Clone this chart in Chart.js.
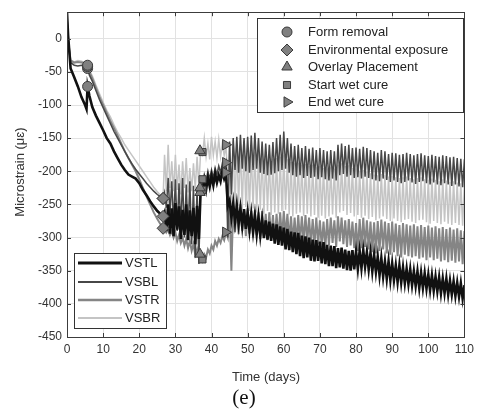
<!DOCTYPE html>
<html>
<head>
<meta charset="utf-8">
<script src="https://cdn.jsdelivr.net/npm/chart.js@4.4.0/dist/chart.umd.min.js"></script>
<style>
    html, body { margin: 0; padding: 0; background: #fff; }
    #wrap { width: 479px; height: 412px; }
</style>
</head>
<body>
<div id="wrap"><canvas id="strainChart" width="479" height="412"></canvas></div>
<script>
const xTicks = [0, 10, 20, 30, 40, 50, 60, 70, 80, 90, 100, 110];
const yTicks = [-450, -400, -350, -300, -250, -200, -150, -100, -50, 0];
const seriesNames = ['VSTL', 'VSBL', 'VSTR', 'VSBR'];

// first weeks, read point by point
const earlyDays = [0, 0.3, 1, 2, 3, 4, 5, 5.4, 5.7, 6.2, 7, 8, 9, 10, 11, 12, 13, 14, 15, 16, 17, 18, 19, 20, 21, 22, 23, 24, 25, 26, 26.6];
const vstlEarly = [40, 5, -45, -58, -72, -88, -100, -106, -72, -86, -103, -116, -127, -138, -150, -158, -170, -180, -190, -198, -205, -208, -211, -218, -228, -236, -245, -253, -260, -265, -268];
const vsblEarly = [35, 0, -36, -40, -41, -40, -41, -42, -45, -55, -64, -78, -92, -104, -116, -128, -140, -150, -160, -170, -180, -189, -197, -204, -211, -218, -224, -230, -235, -239, -241];
const vstrEarly = [30, -2, -33, -36, -35, -36, -37, -38, -42, -50, -60, -74, -88, -100, -112, -124, -135, -146, -158, -170, -180, -190, -200, -212, -225, -238, -250, -262, -272, -281, -286];
const vsbrEarly = [32, 2, -32, -35, -33, -34, -36, -37, -40, -48, -56, -70, -83, -96, -108, -118, -130, -141, -150, -160, -168, -176, -184, -192, -200, -208, -216, -224, -231, -237, -241];

// from day 27 on: daily high / low pairs (high at the day, low half a day later)
const dailyStart = 27;
const vstlDaily = [
    -262, -290, -250, -294, -256, -298, -248, -288, -253, -302, -258, -296,   // 27-32
    -250, -304, -259, -298, -255, -310, -252, -302, -228, -231, -214, -228,   // 33-38
    -210, -223, -207, -221, -204, -217, -206, -215, -200, -211, -203, -252,   // 39-44
    -244, -270, -248, -276, -251, -279, -256, -283, -257, -287, -262, -289,   // 45-50
    -264, -291, -267, -295, -269, -297, -273, -301, -274, -303, -276, -305,   // 51-56
    -279, -309, -280, -311, -283, -312, -285, -318, -287, -319, -291, -322,   // 57-62
    -292, -325, -293, -328, -297, -331, -298, -330, -300, -335, -303, -336,   // 63-68
    -304, -335, -306, -339, -307, -340, -311, -343, -312, -343, -313, -346,   // 69-74
    -316, -345, -315, -347, -318, -349, -320, -350, -319, -348, -321, -347,   // 75-80
    -320, -346, -319, -344, -322, -348, -323, -351, -326, -352, -329, -357,   // 81-86
    -331, -359, -336, -362, -336, -364, -339, -364, -342, -367, -342, -368,   // 87-92
    -345, -369, -347, -370, -348, -372, -351, -373, -351, -376, -353, -376,   // 93-98
    -354, -377, -356, -379, -357, -380, -359, -381, -360, -384, -362, -384,   // 99-104
    -362, -386, -365, -386, -366, -388, -368, -389, -369, -392, -372, -391    // 105-110
];
const vsblDaily = [
    -232, -255, -210, -265, -215, -280, -212, -290, -218, -285, -210, -300,   // 27-32
    -220, -295, -215, -310, -222, -330, -225, -340, -212, -220, -205, -215,   // 33-38
    -200, -212, -198, -210, -195, -205, -192, -202, -188, -198, -187, -300,   // 39-44
    -155, -235, -150, -198, -148, -202, -145, -196, -150, -200, -148, -202,   // 45-50
    -146, -198, -142, -196, -150, -202, -155, -204, -158, -206, -160, -205,   // 51-56
    -156, -203, -150, -200, -145, -198, -140, -196, -150, -202, -158, -206,   // 57-62
    -162, -208, -160, -206, -165, -210, -162, -207, -166, -210, -164, -208,   // 63-68
    -168, -212, -165, -209, -168, -212, -170, -214, -168, -211, -170, -214,   // 69-74
    -160, -206, -158, -204, -162, -208, -160, -206, -165, -210, -164, -209,   // 75-80
    -166, -211, -163, -208, -165, -210, -168, -212, -170, -214, -172, -215,   // 81-86
    -168, -211, -170, -213, -174, -216, -172, -214, -173, -216, -175, -218,   // 87-92
    -174, -216, -172, -214, -174, -217, -176, -219, -174, -216, -173, -215,   // 93-98
    -176, -218, -177, -220, -175, -217, -177, -220, -178, -221, -176, -218,   // 99-104
    -177, -220, -179, -222, -178, -220, -180, -223, -181, -224, -182, -225    // 105-110
];
const vstrDaily = [
    -285, -292, -288, -296, -290, -300, -292, -305, -296, -308, -300, -312,   // 27-32
    -302, -316, -305, -320, -310, -326, -318, -330, -328, -335, -325, -330,   // 33-38
    -318, -324, -312, -318, -305, -312, -302, -308, -298, -304, -292, -300,   // 39-44
    -255, -350, -252, -292, -256, -295, -250, -290, -258, -298, -256, -294,   // 45-50
    -260, -300, -258, -296, -262, -302, -260, -298, -264, -304, -262, -300,   // 51-56
    -266, -305, -264, -302, -262, -300, -260, -298, -264, -304, -268, -308,   // 57-62
    -270, -310, -266, -306, -268, -308, -266, -306, -270, -310, -272, -312,   // 63-68
    -270, -310, -274, -314, -276, -316, -272, -312, -270, -308, -274, -314,   // 69-74
    -268, -306, -270, -310, -274, -314, -272, -312, -276, -316, -278, -320,   // 75-80
    -272, -316, -270, -314, -274, -318, -276, -322, -277, -324, -275, -320,   // 81-86
    -273, -318, -276, -324, -278, -326, -276, -322, -279, -328, -281, -330,   // 87-92
    -278, -326, -280, -328, -282, -330, -280, -328, -283, -332, -281, -330,   // 93-98
    -284, -334, -282, -330, -285, -334, -283, -332, -286, -336, -284, -334,   // 99-104
    -287, -337, -285, -335, -288, -338, -286, -336, -289, -340, -290, -340    // 105-110
];
const vsbrDaily = [
    -175, -230, -160, -225, -185, -230, -175, -228, -190, -235, -185, -225,   // 27-32
    -180, -232, -195, -230, -188, -226, -178, -222, -169, -175, -150, -178,   // 33-38
    -158, -182, -148, -176, -155, -180, -152, -178, -158, -176, -162, -215,   // 39-44
    -162, -250, -155, -255, -158, -252, -160, -258, -162, -254, -165, -260,   // 45-50
    -168, -256, -170, -262, -172, -258, -175, -264, -178, -260, -180, -266,   // 51-56
    -182, -262, -180, -264, -178, -260, -176, -258, -182, -265, -186, -268,   // 57-62
    -188, -264, -187, -262, -190, -267, -189, -264, -192, -268, -190, -266,   // 63-68
    -194, -270, -192, -267, -195, -271, -196, -268, -194, -265, -196, -270,   // 69-74
    -190, -262, -188, -260, -192, -266, -191, -263, -195, -268, -196, -266,   // 75-80
    -199, -270, -198, -267, -201, -272, -203, -269, -205, -274, -206, -271,   // 81-86
    -204, -268, -206, -272, -208, -275, -207, -271, -209, -275, -210, -277,   // 87-92
    -209, -273, -208, -272, -210, -276, -212, -278, -210, -274, -209, -273,   // 93-98
    -212, -277, -213, -279, -211, -275, -213, -278, -215, -280, -212, -276,   // 99-104
    -214, -279, -216, -281, -215, -278, -217, -281, -218, -282, -219, -283    // 105-110
];

// event markers, one value per gauge (VSTL, VSBL, VSTR, VSBR)
const eventNames = ['Form removal', 'Environmental exposure', 'Overlay Placement', 'Start wet cure', 'End wet cure'];
const eventDays = [5.7, 26.6, 36.8, 37.5, 43.9];
const formRemoval = [-72, -45, -42, -40];
const envExposure = [-268, -241, -286, -241];
const overlayPlacement = [-232, -225, -325, -169];
const startWetCure = [-228, -212, -333, -171];
const endWetCure = [-202, -187, -292, -160];

const FONTE = "'Liberation Sans', Arial, Helvetica, sans-serif";
const lineColors = ['#111111', '#474747', '#858585', '#c4c4c4'];
const lineWidths = [2.6, 1.5, 2.0, 1.5];
const markerStyles = [
    { pointStyle: 'circle', radius: 5, rotation: 0 },
    { pointStyle: 'rectRot', radius: 6, rotation: 0 },
    { pointStyle: 'triangle', radius: 6, rotation: 0 },
    { pointStyle: 'rect', radius: 5, rotation: 0 },
    { pointStyle: 'triangle', radius: 6, rotation: 90 }
];

function montarSerie(early, daily) {
    const pts = earlyDays.map((d, i) => ({ x: d, y: early[i] }));
    daily.forEach((v, i) => pts.push({ x: dailyStart + i * 0.5, y: v }));
    return pts;
}

const series = [vstlEarly, vsblEarly, vstrEarly, vsbrEarly];
const dailies = [vstlDaily, vsblDaily, vstrDaily, vsbrDaily];
const eventValues = [formRemoval, envExposure, overlayPlacement, startWetCure, endWetCure];

const datasets = [];
eventValues.forEach((vals, k) => {
    datasets.push({
        label: eventNames[k],
        data: vals.map(v => ({ x: eventDays[k], y: v })),
        showLine: false,
        pointStyle: markerStyles[k].pointStyle,
        pointRadius: markerStyles[k].radius,
        pointRotation: markerStyles[k].rotation,
        pointBackgroundColor: '#808080',
        pointBorderColor: '#3a3a3a',
        pointBorderWidth: 1,
        clip: false
    });
});
seriesNames.forEach((nome, i) => {
    datasets.push({
        label: nome,
        data: montarSerie(series[i], dailies[i]),
        borderColor: lineColors[i],
        borderWidth: lineWidths[i],
        pointRadius: 0,
        tension: 0,
        fill: false,
        clip: 0
    });
});

// frame, inward ticks, both legends and the titles
const moldura = {
    id: 'moldura',
    afterDraw(chart) {
        const ctx = chart.ctx;
        const a = chart.chartArea;
        const sx = chart.scales.x, sy = chart.scales.y;
        ctx.save();
        ctx.strokeStyle = '#3c3c3c';
        ctx.lineWidth = 1;
        ctx.beginPath();
        xTicks.forEach(t => {
            const px = Math.round(sx.getPixelForValue(t)) + 0.5;
            ctx.moveTo(px, a.bottom); ctx.lineTo(px, a.bottom - 4);
            ctx.moveTo(px, a.top); ctx.lineTo(px, a.top + 4);
        });
        yTicks.forEach(t => {
            const py = Math.round(sy.getPixelForValue(t)) + 0.5;
            ctx.moveTo(a.left, py); ctx.lineTo(a.left + 4, py);
            ctx.moveTo(a.right, py); ctx.lineTo(a.right - 4, py);
        });
        ctx.stroke();
        ctx.strokeRect(Math.round(a.left) + 0.5, Math.round(a.top) + 0.5, Math.round(a.right - a.left), Math.round(a.bottom - a.top));

        // event legend
        ctx.fillStyle = '#fff';
        ctx.fillRect(257, 18, 206, 94);
        ctx.strokeStyle = '#333';
        ctx.strokeRect(257.5, 18.5, 206, 94);
        const rowsE = [32, 50, 67, 85, 102];
        ctx.font = '13px ' + FONTE;
        ctx.textBaseline = 'middle';
        ctx.textAlign = 'left';
        eventNames.forEach((nome, k) => {
            ctx.fillStyle = '#808080';
            ctx.strokeStyle = '#3a3a3a';
            ctx.lineWidth = 1;
            Chart.helpers.drawPoint(ctx, {
                pointStyle: markerStyles[k].pointStyle,
                radius: markerStyles[k].radius,
                rotation: markerStyles[k].rotation,
                borderWidth: 1
            }, 287, rowsE[k]);
            ctx.fillStyle = '#222';
            ctx.fillText(nome, 308, rowsE[k]);
        });

        // gauge legend
        ctx.fillStyle = '#fff';
        ctx.fillRect(74, 253, 92, 75);
        ctx.strokeStyle = '#333';
        ctx.lineWidth = 1;
        ctx.strokeRect(74.5, 253.5, 92, 75);
        const rowsS = [263, 282, 300, 318];
        seriesNames.forEach((nome, i) => {
            ctx.strokeStyle = lineColors[i];
            ctx.lineWidth = lineWidths[i] + 0.3;
            ctx.beginPath();
            ctx.moveTo(78, rowsS[i]);
            ctx.lineTo(122, rowsS[i]);
            ctx.stroke();
            ctx.fillStyle = '#222';
            ctx.fillText(nome, 125, rowsS[i]);
        });

        // axis titles
        ctx.fillStyle = '#333';
        ctx.textAlign = 'center';
        ctx.font = '13px ' + FONTE;
        ctx.fillText('Time (days)', 266, 377);
        ctx.save();
        ctx.translate(20, 172);
        ctx.rotate(-Math.PI / 2);
        ctx.fillText('Microstrain (\u03bc\u025b)', 0, 0);
        ctx.restore();
        ctx.fillStyle = '#111';
        ctx.font = "21px 'Liberation Serif', 'Times New Roman', serif";
        ctx.fillText('(e)', 244, 398);
        ctx.restore();
    }
};

new Chart(document.getElementById('strainChart').getContext('2d'), {
    type: 'line',
    data: { datasets: datasets },
    options: {
        responsive: false,
        animation: false,
        events: [],
        layout: { padding: { top: 10, right: 14, left: 0, bottom: 45 } },
        plugins: {
            legend: { display: false },
            tooltip: { enabled: false }
        },
        scales: {
            x: {
                type: 'linear',
                min: 0,
                max: 110,
                afterBuildTicks: s => { s.ticks = xTicks.map(v => ({ value: v })); },
                afterFit: s => { s.height = 30; },
                grid: { color: '#e2e2e2', drawTicks: false },
                border: { display: false },
                ticks: {
                    padding: 5,
                    color: '#333',
                    font: { size: 12, family: FONTE }
                }
            },
            y: {
                type: 'linear',
                min: -450,
                max: 40,
                afterBuildTicks: s => { s.ticks = yTicks.map(v => ({ value: v })); },
                afterFit: s => { s.width = 67; },
                grid: { color: '#e2e2e2', drawTicks: false },
                border: { display: false },
                ticks: {
                    padding: 5,
                    color: '#333',
                    font: { size: 12, family: FONTE }
                }
            }
        }
    },
    plugins: [moldura]
});
</script>
</body>
</html>
